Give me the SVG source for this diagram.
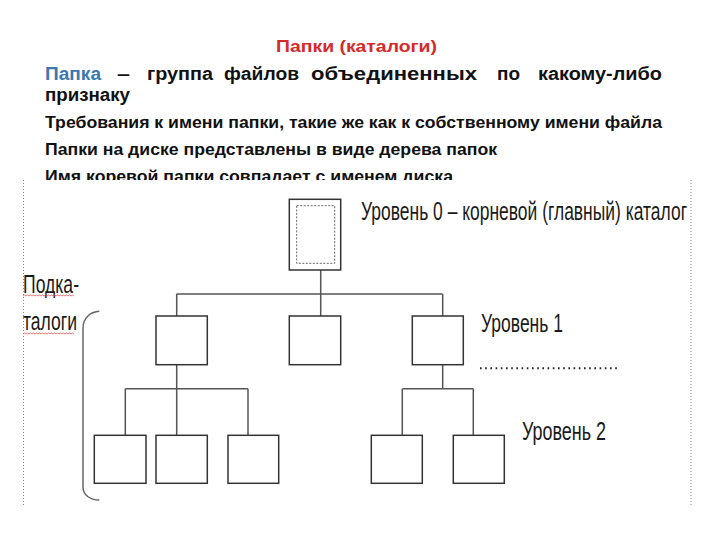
<svg xmlns="http://www.w3.org/2000/svg" width="720" height="540" viewBox="0 0 720 540">
  <style>
    .body { font-family: "Liberation Sans", Arial, sans-serif; font-weight: bold; font-size: 17px; fill: #111; }
    .big { font-size: 17.5px; }
    .title { font-family: "Liberation Sans", Arial, sans-serif; font-weight: bold; font-size: 16.5px; fill: #d42a2a; }
    .lbl { font-family: "Liberation Sans Narrow", "Liberation Sans", Arial, sans-serif; font-size: 26px; fill: #1a1a1a; }
    .box { fill: #fff; stroke: #333; stroke-width: 1.5; }
    .conn { fill: none; stroke: #555; stroke-width: 1.5; }
    .guide { fill: none; stroke: #888; stroke-width: 1; stroke-dasharray: 1 2; }
    .squig { fill: none; stroke: #e05050; stroke-width: 0.8; }
  </style>
  <defs>
    <clipPath id="clip5"><rect x="0" y="150" width="720" height="30"/></clipPath>
  </defs>
  <rect width="720" height="540" fill="#fff"/>

  <g id="text-block">
    <text class="title" x="276" y="52" textLength="161" lengthAdjust="spacingAndGlyphs">Папки (каталоги)</text>
    <text class="body big" y="80">
      <tspan x="45" fill="#3b78b0" textLength="56" lengthAdjust="spacingAndGlyphs">Папка</tspan>
      <tspan x="117" textLength="13" lengthAdjust="spacingAndGlyphs">–</tspan>
      <tspan x="147" textLength="66" lengthAdjust="spacingAndGlyphs">группа</tspan>
      <tspan x="224" textLength="75" lengthAdjust="spacingAndGlyphs">файлов</tspan>
      <tspan x="311" textLength="166" lengthAdjust="spacingAndGlyphs">объединенных</tspan>
      <tspan x="497" textLength="23" lengthAdjust="spacingAndGlyphs">по</tspan>
      <tspan x="538" textLength="124" lengthAdjust="spacingAndGlyphs">какому-либо</tspan>
    </text>
    <text class="body big" x="45" y="101" textLength="85" lengthAdjust="spacingAndGlyphs">признаку</text>
    <text class="body" x="45" y="128" textLength="617" lengthAdjust="spacingAndGlyphs">Требования к имени папки, такие же как к собственному имени файла</text>
    <text class="body" x="45" y="155" textLength="452" lengthAdjust="spacingAndGlyphs">Папки на диске представлены в виде дерева папок</text>
    <text class="body" x="45" y="182" textLength="408" lengthAdjust="spacingAndGlyphs" clip-path="url(#clip5)">Имя коревой папки совпадает с именем диска</text>
  </g>

  <g id="frame">
    <line class="guide" x1="23.5" y1="180" x2="23.5" y2="507"/>
    <line class="guide" x1="691" y1="180" x2="691" y2="507"/>
  </g>

  <g id="connectors">
    <path class="conn" d="M320.7,270 V294 M176.7,294 H442.7 M176.7,294 V316 M320.7,294 V316 M442.7,294 V316"/>
    <path class="conn" d="M176.7,365 V435 M125.3,388.7 H248 M125.3,388.7 V435 M248,388.7 V435"/>
    <path class="conn" d="M442.7,365 V388.7 M402.3,388.7 H473.3 M402.3,388.7 V435 M473.3,388.7 V435"/>
  </g>

  <g id="root">
    <rect class="box" x="289.3" y="199.3" width="51.4" height="70.7"/>
    <rect x="296.7" y="205.7" width="38" height="57.6" fill="none" stroke="#666" stroke-width="1" stroke-dasharray="2 1.5"/>
  </g>
  <g id="l1-a"><rect class="box" x="156" y="316" width="51.3" height="48.7"/></g>
  <g id="l1-b"><rect class="box" x="289.3" y="316" width="51.4" height="48.7"/></g>
  <g id="l1-c"><rect class="box" x="412.3" y="316" width="51" height="48.7"/></g>
  <g id="l2-a"><rect class="box" x="94.3" y="435.3" width="51.7" height="48"/></g>
  <g id="l2-b"><rect class="box" x="156" y="435.3" width="51.3" height="48"/></g>
  <g id="l2-c"><rect class="box" x="228" y="435.3" width="50.7" height="48"/></g>
  <g id="l2-d"><rect class="box" x="371.3" y="435.3" width="51" height="48"/></g>
  <g id="l2-e"><rect class="box" x="453.3" y="435.3" width="51" height="48"/></g>

  <g id="labels">
    <text class="lbl" x="361" y="220" textLength="326" lengthAdjust="spacingAndGlyphs">Уровень 0 – корневой (главный) каталог</text>
    <text class="lbl" x="481" y="332" textLength="82" lengthAdjust="spacingAndGlyphs">Уровень 1</text>
    <line x1="480" y1="368.3" x2="617" y2="368.3" stroke="#222" stroke-width="2" stroke-dasharray="1.6 3.6"/>
    <text class="lbl" x="522" y="440" textLength="84" lengthAdjust="spacingAndGlyphs">Уровень 2</text>
  </g>

  <g id="subfolders-label">
    <text class="lbl" x="23" y="292.7" textLength="56" lengthAdjust="spacingAndGlyphs">Подка-</text>
    <text class="lbl" x="23" y="330" textLength="54" lengthAdjust="spacingAndGlyphs">талоги</text>
    <path class="squig" d="M23,296 l1.5,-1 l1.5,1 l1.5,-1 l1.5,1 l1.5,-1 l1.5,1 l1.5,-1 l1.5,1 l1.5,-1 l1.5,1 l1.5,-1 l1.5,1 l1.5,-1 l1.5,1 l1.5,-1 l1.5,1 l1.5,-1 l1.5,1 l1.5,-1 l1.5,1 l1.5,-1 l1.5,1 l1.5,-1 l1.5,1 l1.5,-1 l1.5,1 l1.5,-1 l1.5,1 l1.5,-1 l1.5,1 l1.5,-1 l1.5,1 l1.5,-1 l1.5,1"/>
    <path class="squig" d="M23,334 l1.5,-1 l1.5,1 l1.5,-1 l1.5,1 l1.5,-1 l1.5,1 l1.5,-1 l1.5,1 l1.5,-1 l1.5,1 l1.5,-1 l1.5,1 l1.5,-1 l1.5,1 l1.5,-1 l1.5,1 l1.5,-1 l1.5,1 l1.5,-1 l1.5,1 l1.5,-1 l1.5,1 l1.5,-1 l1.5,1 l1.5,-1 l1.5,1 l1.5,-1 l1.5,1 l1.5,-1 l1.5,1 l1.5,-1 l1.5,1 l1.5,-1 l1.5,1"/>
    <path d="M99.3,311.3 C90,312 83,318 83,328 V487 C83,495 90,500 99.3,500" fill="none" stroke="#666" stroke-width="1.5"/>
  </g>
</svg>
